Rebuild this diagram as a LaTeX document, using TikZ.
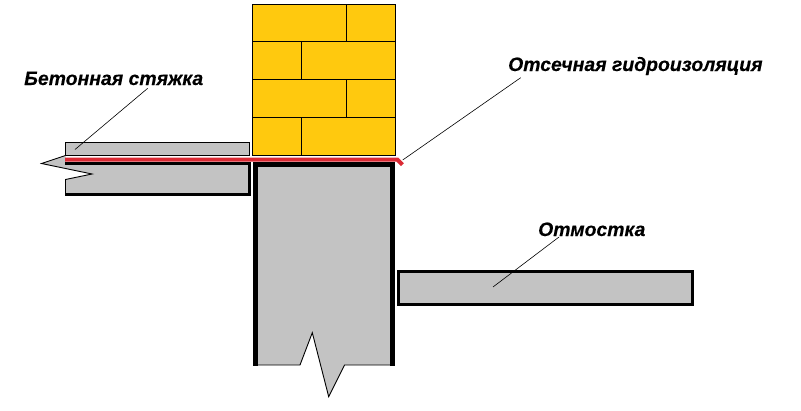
\documentclass[tikz,border=0pt]{standalone}
\usepackage{fontspec}
\setmainfont{Liberation Sans}
\newfontfamily\labfont{Liberation Sans}[BoldItalicFeatures={FakeBold=0.25}]
\definecolor{brick}{HTML}{FFC90E}
\definecolor{conc}{HTML}{C3C3C3}
\definecolor{seal}{HTML}{DA2A34}
\tikzset{
  brickrect/.style={draw=black,line width=0.9,fill=brick},
  brickline/.style={draw=black,line width=0.9},
  thinedge/.style={draw=black,line width=0.9},
  heavy/.style={draw=black,line width=3.6,line cap=butt},
  heavycol/.style={draw=black,line width=4.6,line cap=butt},
  leader/.style={draw=black,line width=0.6},
  labeltext/.style={font=\labfont\bfseries\itshape\fontsize{19.4}{22}\selectfont,inner sep=0,anchor=base west}
}
\begin{document}
\begin{tikzpicture}[x=1pt,y=-1pt]
\useasboundingbox (0,0) rectangle (801,410);
% bricks
\path[brickrect] (252.5,4.5) rectangle (395.5,155.5);
\foreach \yy in {41.5,79.5,117.5} \draw[brickline] (252.5,\yy) -- (395.5,\yy);
\draw[brickline] (346.5,4.5) -- (346.5,41.5);
\draw[brickline] (301.5,41.5) -- (301.5,79.5);
\draw[brickline] (346.5,79.5) -- (346.5,117.5);
\draw[brickline] (301.5,117.5) -- (301.5,155.5);
% screed
\fill[conc] (65.5,155.5) -- (41.5,163.5) -- (92,174) -- (65.5,179.5) -- (65.5,194) -- (249,194) -- (249,163) -- (65.5,163) -- cycle;
\path[thinedge,fill=conc] (65.5,142.5) rectangle (249.5,155.5);
\draw[thinedge] (65.5,155.5) -- (41.5,163.5) -- (92,174) -- (65.5,179.5) -- (65.5,195);
\draw[heavy] (65,163.3) -- (249.5,163.3) -- (249.5,194.5) -- (65,194.5);
% column
\fill[conc] (255.5,164) -- (392.7,164) -- (392.7,365) -- (344.5,365) -- (328.7,396.7) -- (312.3,332.7) -- (300,365) -- (255.5,365) -- cycle;
\draw[thinedge] (255.5,365) -- (300,365) -- (312.3,332.7) -- (328.7,396.7) -- (344.5,365) -- (392.7,365);
\draw[heavycol] (255.6,365.6) -- (255.6,164.2) -- (392.7,164.2) -- (392.7,365.6);
% pavement
\path[draw=black,line width=3,fill=conc] (398.8,271.8) rectangle (692.5,304.2);
% damp course
\draw[seal,line width=4,line join=miter] (65,159.7) -- (397.5,159.7) -- (402.5,164.7);
% labels
\node[labeltext] (beton) at (24,85) {Бетонная стяжка};
\node[labeltext] (otsech) at (508,71) {Отсечная гидроизоляция};
\node[labeltext] (otm) at (538,236) {Отмостка};
\coordinate (bonstart) at (147.7,88.3);
\coordinate (bonend) at (75,149.5);
\coordinate (otsstart) at (520.7,77.7);
\coordinate (otsend) at (402.7,160);
\coordinate (otmstart) at (559,237);
\coordinate (otmend) at (493,287);
\draw[leader] (bonstart) -- (bonend);
\draw[leader] (otsstart) -- (otsend);
\draw[leader] (otmstart) -- (otmend);
\end{tikzpicture}
\end{document}
